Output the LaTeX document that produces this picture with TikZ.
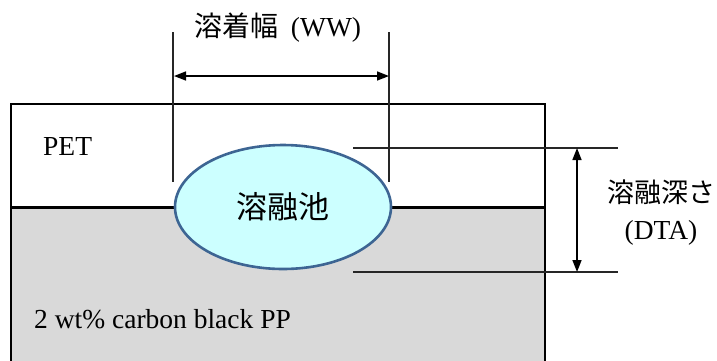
\documentclass[tikz,border=0pt]{standalone}
\usepackage{fontspec}
\setmainfont{Liberation Serif}
\newfontfamily\jp{Noto Sans CJK JP}
\usetikzlibrary{shapes.geometric,arrows.meta}
\definecolor{poolfill}{HTML}{CCFFFF}
\definecolor{pooledge}{HTML}{3D6593}
\definecolor{ppgray}{HTML}{D9D9D9}
\tikzset{
  guide/.style={line width=1.3pt,black!85},
  wall/.style={line width=2pt,black},
  dimarrow/.style={line width=1.6pt,{Triangle[length=12pt,width=9pt]}-{Triangle[length=12pt,width=9pt]}},
  lbl/.style={inner sep=0pt,font=\fontsize{27.5}{30}\selectfont},
  jplbl/.style={inner sep=0pt,font=\fontsize{27}{32}\selectfont\jp},
  pool/.style={ellipse,draw=pooledge,line width=2.6pt,fill=poolfill,minimum width=216pt,minimum height=124pt,inner sep=0pt,font=\fontsize{31}{34}\selectfont\jp}
}
\begin{document}
\begin{tikzpicture}[x=1pt,y=-1pt]
\useasboundingbox (0,0) rectangle (717,360);
% layers
\fill[ppgray] (11,207) rectangle (545,362);
\coordinate (boxBL) at (11,362);
\coordinate (boxTL) at (11,104);
\coordinate (boxTR) at (545,104);
\coordinate (boxBR) at (545,362);
\draw[wall] (boxBL) -- (boxTL) -- (boxTR) -- (boxBR);
\coordinate (ifL) at (11,207);
\coordinate (ifR) at (545,207);
\draw[line width=3pt] (ifL) -- (ifR);
% guide lines for WW
\coordinate (wwLt) at (173,32);
\coordinate (wwLb) at (173,182);
\coordinate (wwRt) at (389,32);
\coordinate (wwRb) at (389,182);
\draw[guide] (wwLt) -- (wwLb);
\draw[guide] (wwRt) -- (wwRb);
% guide lines for DTA
\coordinate (dtaTl) at (353,148);
\coordinate (dtaTr) at (618,148);
\coordinate (dtaBl) at (353,272);
\coordinate (dtaBr) at (618,272);
% pool
\node[pool] (pool) at (283,207) {溶融池};
\draw[guide] (dtaTl) -- (dtaTr);
\draw[guide] (dtaBl) -- (dtaBr);
% dimension arrows
\coordinate (wwA) at (174,76);
\coordinate (wwB) at (389,76);
\draw[dimarrow] (wwA) -- (wwB);
\coordinate (dtaA) at (577,148);
\coordinate (dtaB) at (577,272);
\draw[dimarrow] (dtaA) -- (dtaB);
% labels
\node[lbl] (wwlabel) at (278,28) {{\jp\fontsize{28}{32}\selectfont 溶着幅}\hspace{12pt}(WW)};
\node[jplbl] (dtalabel) at (661,192) {溶融深さ};
\node[lbl] (dtaabbr) at (661,233) {(DTA)};
\node[lbl,anchor=base west] (pet) at (43,155) {PET};
\node[lbl,anchor=base west] (pp) at (34,328) {2 wt\% carbon black PP};
\end{tikzpicture}
\end{document}
